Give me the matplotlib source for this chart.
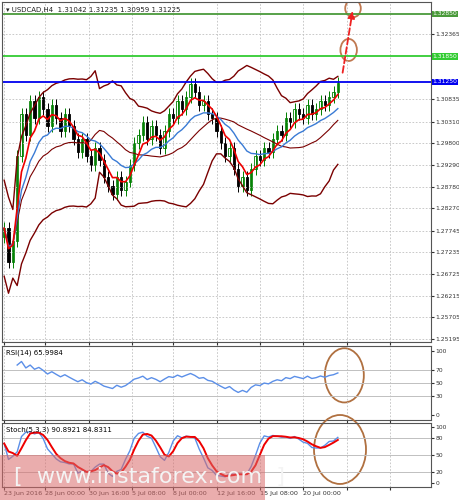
import numpy as np
import pandas as pd
import matplotlib
matplotlib.use('Agg')
import matplotlib.pyplot as plt
from matplotlib.patches import Rectangle, Ellipse

closes = [1.2780, 1.2700, 1.2750, 1.2950, 1.3050, 1.3000,
          1.3080, 1.3040, 1.3090, 1.3060, 1.3020, 1.3070,
          1.3040, 1.3010, 1.3050, 1.3020, 1.2990, 1.2960,
          1.2990, 1.2950, 1.2930, 1.2970, 1.2940, 1.2900,
          1.2880, 1.2860, 1.2900, 1.2870, 1.2890, 1.2930,
          1.2980, 1.3000, 1.3030, 1.2990, 1.3020, 1.3000,
          1.2970, 1.3010, 1.3050, 1.3040, 1.3080, 1.3060,
          1.3090, 1.3120, 1.3100, 1.3070, 1.3080, 1.3050,
          1.3040, 1.3010, 1.2980, 1.2950, 1.2970, 1.2920,
          1.2880, 1.2900, 1.2870, 1.2920, 1.2950, 1.2940,
          1.2970, 1.2960, 1.2990, 1.3010, 1.3000, 1.3040,
          1.3030, 1.3060, 1.3050, 1.3040, 1.3070, 1.3050,
          1.3060, 1.3080, 1.3070, 1.3090, 1.3100, 1.3122]
first_open = 1.2760
price_ticks = [1.32365, 1.30835, 1.30310, 1.29800, 1.29290,
               1.28780, 1.28270, 1.27745, 1.27235, 1.26725, 1.26215, 1.25705, 1.25195]
levels = [1.32850, 1.31850, 1.31250]
level_colors = ['#4a9a3a', '#33cc33', '#0000ee']
date_labels = ['23 Jun 2016', '28 Jun 00:00', '30 Jun 16:00', '5 Jul 08:00',
               '8 Jul 00:00', '12 Jul 16:00', '15 Jul 08:00', '20 Jul 00:00']
date_pos = [0, 9.5, 19.5, 29.5, 39, 49, 59, 69]

c = pd.Series(closes)
o = pd.Series([first_open] + closes[:-1])
hi = np.maximum(o, c) + 0.0014
lo = np.minimum(o, c) - 0.0014
n = len(c)
x = np.arange(n)

ma_fast = c.ewm(span=5).mean()
ma_slow = c.ewm(span=14).mean()
mid = c.rolling(20, min_periods=1).mean()
sd = c.rolling(20, min_periods=2).std().bfill()
sd = np.clip(sd, 0.004, 0.0075)
up_b, lo_b = mid + 2 * sd, mid - 2 * sd

d = c.diff().fillna(0)
gain = d.clip(lower=0).ewm(alpha=1/14).mean()
loss = (-d.clip(upper=0)).ewm(alpha=1/14).mean()
rsi = 100 - 100 / (1 + gain / (loss + 1e-9))
rsi.iloc[:3] = np.nan
hh = hi.rolling(5, min_periods=1).max()
ll = lo.rolling(5, min_periods=1).min()
k = ((c - ll) / (hh - ll) * 100).rolling(3, min_periods=1).mean()
dline = k.rolling(3, min_periods=1).mean()

fig = plt.figure(figsize=(4.59, 5.0), dpi=100)
W, H = 459, 500
def ax_at(x0, y0, x1, y1):
    return fig.add_axes([x0 / W, 1 - y1 / H, (x1 - x0) / W, (y1 - y0) / H])

ax = ax_at(2, 2, 431, 342)
ax_r = ax_at(2, 346, 431, 420)
ax_s = ax_at(2, 423, 431, 487)
for a in (ax, ax_r, ax_s):
    a.set_xlim(-0.5, 98.5)
    a.yaxis.tick_right()
    a.tick_params(labelsize=4.3, length=2, colors='#333333', pad=1)
    a.set_xticks([p for p in date_pos] + [79, 89])
    a.set_xticklabels([])
    a.grid(True, ls=(0, (2, 2)), color='#c0c0c0', lw=0.6)
    for s in a.spines.values():
        s.set_color('#555555')

# main
ax.set_ylim(1.2512, 1.3313)
ax.set_yticks(price_ticks)
ax.set_yticklabels(['%.5f' % t for t in price_ticks])
for i in range(n):
    col = '#008000' if c[i] >= o[i] else '#000000'
    ax.vlines(x[i], lo[i], hi[i], color=col, lw=0.7)
    ax.add_patch(Rectangle((x[i] - 0.3, min(o[i], c[i])), 0.6, abs(c[i] - o[i]) + 1e-5,
                           facecolor='white' if c[i] >= o[i] else 'black', edgecolor=col, lw=0.6))
ax.plot(x, up_b, color='#7a0000', lw=1)
ax.plot(x, lo_b, color='#7a0000', lw=1)
ax.plot(x, mid, color='#7a0000', lw=0.8)
ax.plot(x, ma_slow, color='#3a7bd5', lw=1)
ax.plot(x, ma_fast, color='#ee0000', lw=1.2)
for lv, lc in zip(levels, level_colors):
    ax.axhline(lv, color=lc, lw=1.3)
    ax.text(1.004, lv, '%.5f' % lv, transform=ax.get_yaxis_transform(), fontsize=4.3,
            color='white', va='center', ha='left',
            bbox=dict(boxstyle='square,pad=0.12', fc=lc, ec='none'))
ax.text(0.01, 0.985, '▾ USDCAD,H4  1.31042 1.31235 1.30959 1.31225', transform=ax.transAxes,
        fontsize=5, va='top', color='#222222')
ax.add_patch(Ellipse((80.5, 1.3298), 3.6, 0.0042, fill=False, ec='#c07850', lw=1.3))
ax.add_patch(Ellipse((79.5, 1.3200), 3.8, 0.0052, fill=False, ec='#c07850', lw=1.3))
ax.annotate('', xy=(80.5, 1.3298), xytext=(78, 1.3140),
            arrowprops=dict(arrowstyle='-|>', color='#ee2222', lw=1.3, ls='--', mutation_scale=10))

# rsi
ax_r.set_ylim(-8, 108)
ax_r.set_yticks([0, 30, 50, 70, 100])
ax_r.grid(False, axis='y')
for lv in (30, 50, 70):
    ax_r.axhline(lv, color='#c0c0c0', lw=0.7)
ax_r.plot(x, rsi, color='#5b8fe8', lw=1)
ax_r.text(0.01, 0.95, 'RSI(14) 65.9984', transform=ax_r.transAxes, fontsize=5, va='top')
ax_r.add_patch(Ellipse((78.5, 62), 9, 85, fill=False, ec='#b07040', lw=1.3))

# stochastic
ax_s.set_ylim(-8, 108)
ax_s.set_yticks([0, 20, 50, 80, 100])
ax_s.grid(False, axis='y')
for lv in (20, 50, 80):
    ax_s.axhline(lv, color='#c0c0c0', lw=0.7)
ax_s.plot(x, k, color='#5b8fe8', lw=1)
ax_s.plot(x, dline, color='#ee0000', lw=1.4)
ax_s.text(0.01, 0.95, 'Stoch(5,3,3) 90.8921 84.8311', transform=ax_s.transAxes, fontsize=5, va='top')
ax_s.add_patch(Ellipse((77.5, 60), 12, 125, fill=False, ec='#b07040', lw=1.3, clip_on=False))
ax_s.set_xticklabels(date_labels + ['', ''], fontsize=4.6)
for lab in ax_s.get_xticklabels():
    lab.set_ha('left')

fig.patches.append(Rectangle((0, 0), 265 / W, 45 / H, transform=fig.transFigure,
                             fc='#d96a6a', alpha=0.55, ec='none'))
fig.text(0.03, 0.045, '[  www.instaforex.com  ]', fontsize=16, color='#f4f4f4', va='center')

fig.savefig('out.png', dpi=100)
